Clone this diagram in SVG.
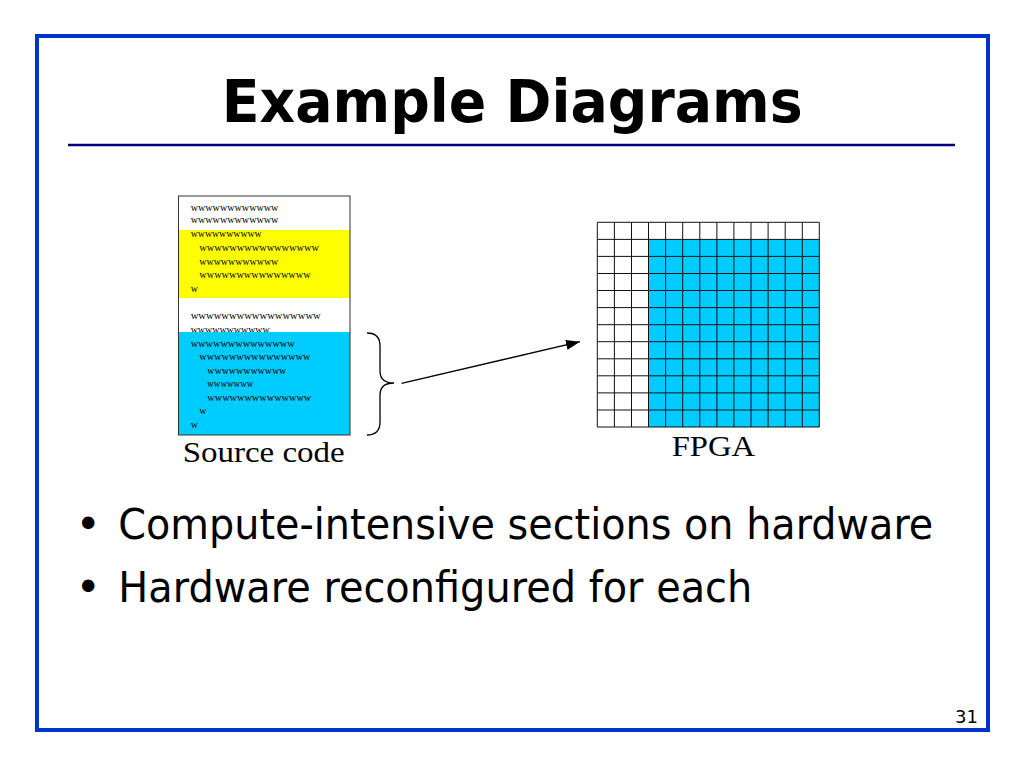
<svg xmlns="http://www.w3.org/2000/svg" width="1024" height="768" viewBox="0 0 1024 768">
  <defs>
    <style>
      .frame { fill: none; stroke: #0033cc; stroke-width: 4; }
      .rule { stroke: #000080; stroke-width: 2.5; }
      .title { font-family: "DejaVu Sans", "Liberation Sans", sans-serif; font-weight: bold; font-size: 58px; fill: #000; }
      .bullet { font-family: "DejaVu Sans", "Liberation Sans", sans-serif; font-size: 43px; fill: #000; }
      .code { font-family: "Liberation Serif", "Times New Roman", serif; font-size: 10px; fill: #000; }
      .label { font-family: "Liberation Serif", "Times New Roman", serif; font-size: 29px; fill: #000; }
      .pnum { font-family: "DejaVu Sans", "Liberation Sans", sans-serif; font-size: 18px; fill: #000; }
      .grid { fill: none; stroke: #111; stroke-width: 1; }
      .conn { fill: none; stroke: #000; stroke-width: 1.3; }
    </style>
    <marker id="arrow" viewBox="0 0 14 10" refX="14" refY="5" markerWidth="14" markerHeight="10" markerUnits="userSpaceOnUse" orient="auto">
      <path d="M0,0 L14,5 L0,10 Z" fill="#000"/>
    </marker>
  </defs>

  <rect width="1024" height="768" fill="#fff"/>
  <rect class="frame" x="37" y="36" width="951" height="694"/>

  <g id="title">
    <text class="title" x="221.7" y="121.7" textLength="581" lengthAdjust="spacingAndGlyphs">Example Diagrams</text>
    <line class="rule" x1="68" y1="145" x2="955" y2="145"/>
  </g>

  <g id="source-code">
    <rect x="178.5" y="196" width="171.5" height="239" fill="#fff"/>
    <rect x="179" y="230" width="171" height="68" fill="#ffff00"/>
    <text class="code" x="190.7" y="210.7" textLength="87.7" lengthAdjust="spacingAndGlyphs">wwwwwwwwwwww</text>
    <text class="code" x="190.7" y="223.3" textLength="87.7" lengthAdjust="spacingAndGlyphs">wwwwwwwwwwww</text>
    <text class="code" x="190.7" y="236.7" textLength="71" lengthAdjust="spacingAndGlyphs">wwwwwwwwww</text>
    <text class="code" x="199.3" y="250.7" textLength="119.7" lengthAdjust="spacingAndGlyphs">wwwwwwwwwwwwwwww</text>
    <text class="code" x="199.3" y="264.7" textLength="79" lengthAdjust="spacingAndGlyphs">wwwwwwwwwww</text>
    <text class="code" x="199.3" y="278" textLength="111.3" lengthAdjust="spacingAndGlyphs">wwwwwwwwwwwwwww</text>
    <text class="code" x="190.7" y="291.5">w</text>
    <text class="code" x="190.7" y="319.3" textLength="130" lengthAdjust="spacingAndGlyphs">wwwwwwwwwwwwwwwww</text>
    <text class="code" x="190.7" y="332.5" textLength="79" lengthAdjust="spacingAndGlyphs">wwwwwwwwwww</text>
    <rect x="179" y="332" width="171" height="103" fill="#00ccff"/>
    <text class="code" x="190.7" y="346.7" textLength="104" lengthAdjust="spacingAndGlyphs">wwwwwwwwwwwwww</text>
    <text class="code" x="199.3" y="360" textLength="111" lengthAdjust="spacingAndGlyphs">wwwwwwwwwwwwwww</text>
    <text class="code" x="207.3" y="373.5" textLength="79" lengthAdjust="spacingAndGlyphs">wwwwwwwwwww</text>
    <text class="code" x="207.3" y="386.7" textLength="46" lengthAdjust="spacingAndGlyphs">wwwwwww</text>
    <text class="code" x="207.3" y="400.5" textLength="104" lengthAdjust="spacingAndGlyphs">wwwwwwwwwwwwww</text>
    <text class="code" x="199.3" y="414">w</text>
    <text class="code" x="190.7" y="427.5">w</text>
    <rect x="178.5" y="196" width="171.5" height="239" fill="none" stroke="#333" stroke-width="1"/>
    <text class="label" x="182.7" y="462" textLength="162" lengthAdjust="spacingAndGlyphs">Source code</text>
  </g>

  <g id="fpga">
    <rect x="597.3" y="222.3" width="222" height="204.7" fill="#fff"/>
    <rect x="648.5" y="239.4" width="170.8" height="187.6" fill="#00ccff"/>
    <path class="grid" d="M597.3,222.3V427 M614.4,222.3V427 M631.5,222.3V427 M648.5,222.3V427 M665.6,222.3V427 M682.7,222.3V427 M699.8,222.3V427 M716.9,222.3V427 M733.9,222.3V427 M751,222.3V427 M768.1,222.3V427 M785.2,222.3V427 M802.3,222.3V427 M819.3,222.3V427
      M597.3,222.3H819.3 M597.3,239.4H819.3 M597.3,256.4H819.3 M597.3,273.5H819.3 M597.3,290.5H819.3 M597.3,307.6H819.3 M597.3,324.7H819.3 M597.3,341.7H819.3 M597.3,358.8H819.3 M597.3,375.8H819.3 M597.3,392.9H819.3 M597.3,410H819.3 M597.3,427H819.3"/>
    <text class="label" x="671.7" y="455.7" textLength="83.3" lengthAdjust="spacingAndGlyphs">FPGA</text>
  </g>

  <g id="connectors">
    <path class="conn" d="M367,333 Q380,333 380,346 L380,371 Q380,383 394,383 Q380,383 380,395 L380,422 Q380,435 367,435"/>
    <line class="conn" x1="401.5" y1="383.3" x2="580" y2="341.7" marker-end="url(#arrow)"/>
  </g>

  <g id="bullets">
    <text class="bullet" x="88.3" y="539" text-anchor="middle">•</text>
    <text class="bullet" x="118.3" y="539" textLength="815" lengthAdjust="spacingAndGlyphs">Compute-intensive sections on hardware</text>
    <text class="bullet" x="88.3" y="601.7" text-anchor="middle">•</text>
    <text class="bullet" x="118.3" y="601.7" textLength="634" lengthAdjust="spacingAndGlyphs">Hardware reconfigured for each</text>
  </g>

  <g id="page-number">
    <text class="pnum" x="978" y="723" text-anchor="end">31</text>
  </g>
</svg>
